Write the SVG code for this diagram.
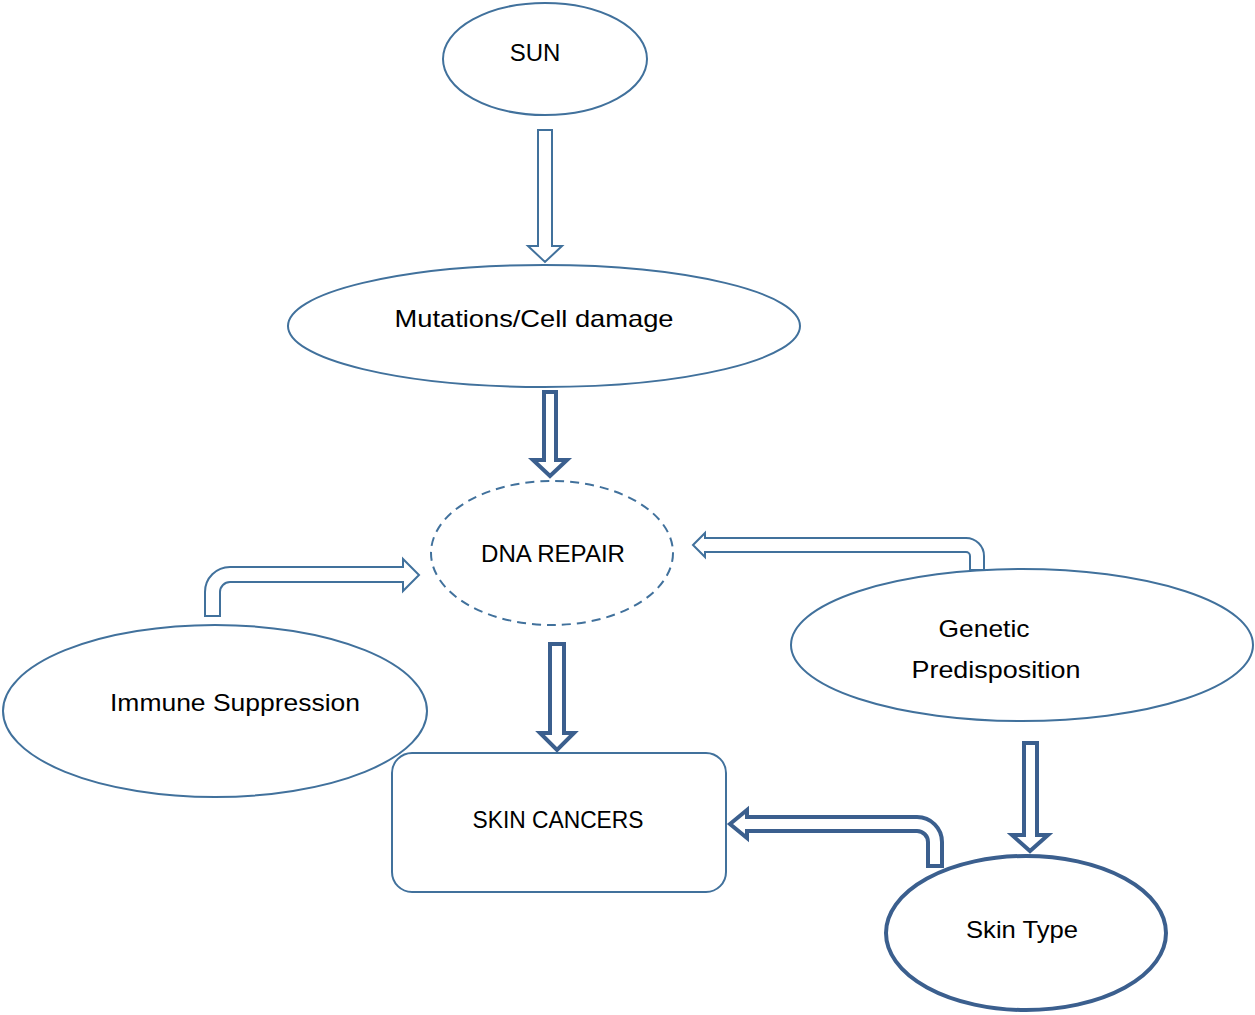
<svg xmlns="http://www.w3.org/2000/svg" width="1255" height="1015" viewBox="0 0 1255 1015">
<style>
.node{fill:#ffffff;stroke:#41719c;stroke-width:2}
.dash{stroke-dasharray:9 6}
.thickn{stroke:#3b5f8e;stroke-width:4}
.thin{fill:#ffffff;stroke:#41719c;stroke-width:2;stroke-linejoin:miter}
.thick{fill:#ffffff;stroke:#3b5f8e;stroke-width:4;stroke-linejoin:miter}
text{font-family:"Liberation Sans",Arial,sans-serif;font-size:24px;fill:#000000;text-anchor:middle}
</style>
<rect width="1255" height="1015" fill="#ffffff"/>
<g id="sun"><ellipse class="node" cx="545" cy="59" rx="102" ry="56"/><text x="535" y="61">SUN</text></g>
<g id="mutations"><ellipse class="node" cx="544" cy="326" rx="256" ry="61"/><text x="534" y="327" textLength="279" lengthAdjust="spacingAndGlyphs">Mutations/Cell damage</text></g>
<g id="dna-repair"><ellipse class="node dash" cx="552" cy="553" rx="121" ry="72"/><text x="553" y="562" textLength="144" lengthAdjust="spacingAndGlyphs">DNA REPAIR</text></g>
<g id="immune"><ellipse class="node" cx="215" cy="711" rx="212" ry="86"/><text x="235" y="711" textLength="250" lengthAdjust="spacingAndGlyphs">Immune Suppression</text></g>
<g id="genetic"><ellipse class="node" cx="1022" cy="645" rx="231" ry="76"/><text x="984" y="637" textLength="91" lengthAdjust="spacingAndGlyphs">Genetic</text><text x="996" y="678" textLength="169" lengthAdjust="spacingAndGlyphs">Predisposition</text></g>
<g id="skin-cancers"><rect class="node" x="392" y="753" width="334" height="139" rx="20" ry="20"/><text x="558" y="828" textLength="171" lengthAdjust="spacingAndGlyphs">SKIN CANCERS</text></g>
<g id="skin-type"><ellipse class="node thickn" cx="1026" cy="933" rx="140" ry="77"/><text x="1022" y="938" textLength="112" lengthAdjust="spacingAndGlyphs">Skin Type</text></g>
<g id="connectors">
<path class="thin" d="M538,130 H552 V246 H562 L545,262 L528,246 H538 Z"/>
<path class="thick" d="M544,392 H556 V460 H567 L550,476 L533,460 H544 Z"/>
<path class="thick" d="M550,644 H564 V733 H574 L557,750 L540,733 H550 Z"/>
<path class="thick" d="M1024,743 H1037 V835 H1048 L1030,851 L1012,835 H1024 Z"/>
<path class="thin" d="M205,616 V592 A25,25 0 0 1 230,567 H403 V559 L419,575 L403,591 V582 H230 A10,10 0 0 0 220,592 V616 Z"/>
<path class="thin" d="M693,545 L705,533 V538 H966 A18,18 0 0 1 984,556 V570 H970 V556 A4,4 0 0 0 966,552 H705 V557 Z"/>
<path class="thick" d="M730,824 L747,810 V817 H917 A25,25 0 0 1 942,842 V866 H928 V842 A11,11 0 0 0 917,831 H747 V838 Z"/>
</g>
</svg>
